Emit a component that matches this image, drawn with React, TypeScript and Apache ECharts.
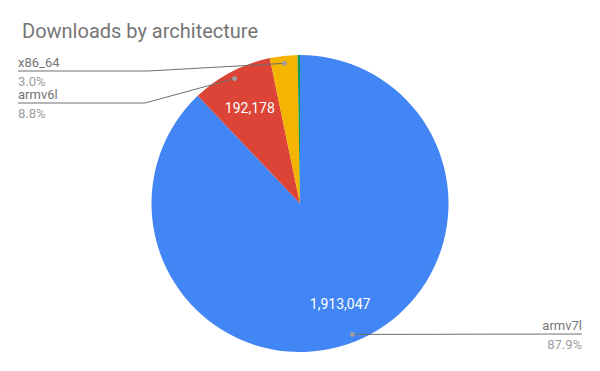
import { useEffect, useRef } from 'react';
import * as echarts from 'echarts';

const categories = ['armv7l', 'armv6l', 'x86_64', 'aarch64'];
const downloads = [1913047, 192178, 65300, 5700];
const sliceColors = ['#4285F4', '#DB4437', '#F4B400', '#0F9D58'];
const titleText = 'Downloads by architecture';

const CX = 300;
const CY = 203.5;
const R = 148.5;
const DOT_INSET = 7.5;

const labelSpots: Record<string, { x: number; y: number; knee?: number; align: 'left' | 'right' }> = {
  armv7l: { x: 582, y: 334, align: 'right' },
  armv6l: { x: 18, y: 103, knee: 145, align: 'left' },
  x86_64: { x: 18, y: 71, knee: 148, align: 'left' },
};

const total = downloads.reduce((a, b) => a + b, 0);

function dotPoint(i: number): [number, number] {
  let before = 0;
  for (let k = 0; k < i; k++) before += downloads[k];
  const mid = (before + downloads[i] / 2) / total;
  const th = mid * Math.PI * 2;
  const r = R - DOT_INSET;
  return [CX + r * Math.sin(th), CY - r * Math.cos(th)];
}

export default function App() {
  const ref = useRef<HTMLDivElement>(null);
  useEffect(() => {
    if (!ref.current) return;
    const chart = echarts.init(ref.current, null, { renderer: 'svg' });
    const data = categories.map((name, i) => ({
      name,
      value: downloads[i],
      itemStyle: { color: sliceColors[i] },
    }));
    const graphics: any[] = [];
    categories.forEach((name, i) => {
      const spot = labelSpots[name];
      if (!spot) return;
      const dot = dotPoint(i);
      const pts =
        spot.align === 'left'
          ? [dot, [spot.knee as number, spot.y], [spot.x, spot.y]]
          : [dot, [spot.x, spot.y]];
      const pct = ((downloads[i] / total) * 100).toFixed(1) + '%';
      graphics.push({
        type: 'polyline',
        shape: { points: pts },
        style: { stroke: '#6f6f6f', lineWidth: 1, fill: null },
        z: 90,
        silent: true,
      });
      graphics.push({
        type: 'circle',
        shape: { cx: dot[0], cy: dot[1], r: 2.5 },
        style: { fill: '#9e9e9e' },
        z: 100,
        silent: true,
      });
      graphics.push({
        type: 'text',
        x: spot.x,
        y: spot.y - 8.5,
        style: {
          text: name,
          fontFamily: 'Roboto',
          fontSize: 13,
          fill: '#757575',
          textAlign: spot.align,
          textVerticalAlign: 'middle',
        },
        z: 100,
        silent: true,
      });
      graphics.push({
        type: 'text',
        x: spot.x,
        y: spot.y + 10,
        style: {
          text: pct,
          fontFamily: 'Roboto',
          fontSize: 13,
          fill: '#9e9e9e',
          textAlign: spot.align,
          textVerticalAlign: 'middle',
        },
        z: 100,
        silent: true,
      });
    });
    chart.setOption({
      animation: false,
      backgroundColor: '#ffffff',
      title: {
        text: titleText,
        left: 17,
        top: 16,
        textStyle: {
          fontFamily: 'Roboto',
          fontSize: 20,
          fontWeight: 'normal',
          color: '#757575',
        },
      },
      graphic: graphics,
      series: [
        {
          type: 'pie',
          center: [CX, CY],
          radius: [0, R],
          startAngle: 90,
          clockwise: true,
          silent: true,
          data,
          label: { show: false },
          labelLine: { show: false },
        },
        {
          type: 'pie',
          center: [CX, CY],
          radius: [62, R],
          startAngle: 90,
          clockwise: true,
          silent: true,
          itemStyle: { color: 'rgba(0,0,0,0)' },
          data: categories.map((name, i) => ({ name, value: downloads[i] })),
          label: {
            position: 'inside',
            color: '#ffffff',
            fontFamily: 'Roboto',
            fontSize: 14,
            formatter: (p: any) => (p.percent > 5 ? Number(p.value).toLocaleString('en-US') : ''),
          },
          labelLine: { show: false },
        },
      ],
    });
    return () => chart.dispose();
  }, []);
  return (
    <div
      ref={ref}
      style={{ position: 'absolute', left: 0, top: 0, width: 600, height: 371 }}
    />
  );
}
